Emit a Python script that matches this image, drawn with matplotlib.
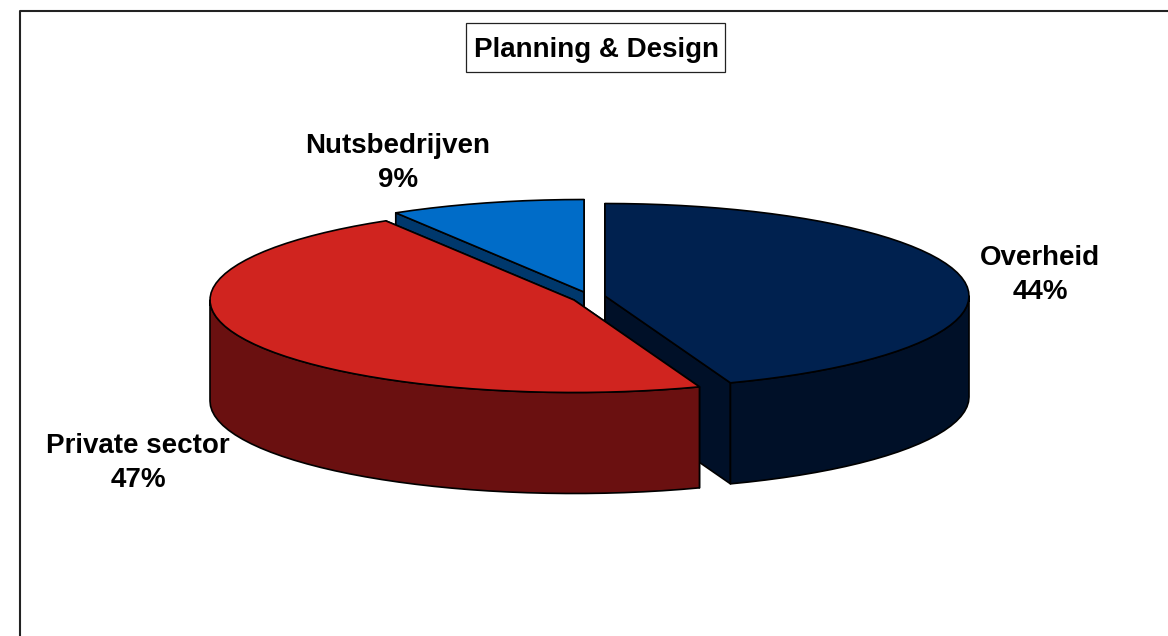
import matplotlib
matplotlib.use('Agg')
import matplotlib.pyplot as plt
import numpy as np
from matplotlib.patches import Polygon, Rectangle

title = 'Planning & Design'
names = ['Overheid', 'Private sector', 'Nutsbedrijven']
values = [44.4, 46.95, 8.65]

top_colors = ['#00214F', '#D0241F', '#006CC8']
side_colors = ['#001028', '#6A1010', '#00386C']
# slice centres in pixels (exploded pie), radii of the ellipse and the depth
centers = [(605, 296), (574, 300), (584, 292)]
label_pos = [(1040, 275), (138, 463), (398, 163)]
RX, RY, DEPTH = 364, 92.5, 101
STEP = 3  # degrees per rim segment


def rim(c, a0, a1, dy=0):
    # angles clockwise from the top of the pie
    n = max(int(abs(a1 - a0) / STEP), 1)
    t = np.radians(np.linspace(a0, a1, n + 1))
    return np.column_stack([c[0] + RX * np.sin(t), c[1] - RY * np.cos(t) + dy])


def draw_slice(ax, c, a0, a1, top, side):
    kw = dict(edgecolor='black', linewidth=1.2, joinstyle='round')
    # cut faces, drawn first so the outer wall and top go over them
    for a in (a0, a1):
        p = rim(c, a, a)[0]
        ax.add_patch(Polygon([c, p, (p[0], p[1] + DEPTH), (c[0], c[1] + DEPTH)],
                             facecolor=side, **kw))
    # outer wall, only the front half of the rim can be seen
    lo, hi = max(a0, 90), min(a1, 270)
    if lo < hi:
        upper = rim(c, lo, hi)
        lower = rim(c, lo, hi, DEPTH)
        ax.add_patch(Polygon(np.vstack([upper, lower[::-1]]), facecolor=side, **kw))
    ax.add_patch(Polygon(np.vstack([[c], rim(c, a0, a1)]), facecolor=top, **kw))


fig = plt.figure(figsize=(11.68, 6.36), dpi=100)
ax = fig.add_axes([0, 0, 1, 1])
ax.set_xlim(0, 1168)
ax.set_ylim(636, 0)
ax.axis('off')
font = dict(family=['Liberation Sans', 'DejaVu Sans'], fontweight='bold', color='black')

# chart frame runs off the right and bottom of the image
ax.plot([20, 20, 1170], [640, 10.5, 10.5], color='#222222', linewidth=1.5, clip_on=False)

edges = np.cumsum([0] + values) / sum(values) * 360
# far slice first, the red one sits in front of both others
for i in (2, 0, 1):
    draw_slice(ax, centers[i], edges[i], edges[i + 1], top_colors[i], side_colors[i])

for name, v, pos in zip(names, values, label_pos):
    ax.text(pos[0], pos[1], f'{name}\n{v:.0f}%', ha='center', va='center', fontsize=20,
            linespacing=1.37, **font)

ax.add_patch(Rectangle((466, 23), 259, 49, facecolor='white', edgecolor='#222222', linewidth=0.9))
ax.text(596, 50, title, ha='center', va='center', fontsize=20, **font)

fig.savefig('out.png', dpi=100)
plt.close(fig)
